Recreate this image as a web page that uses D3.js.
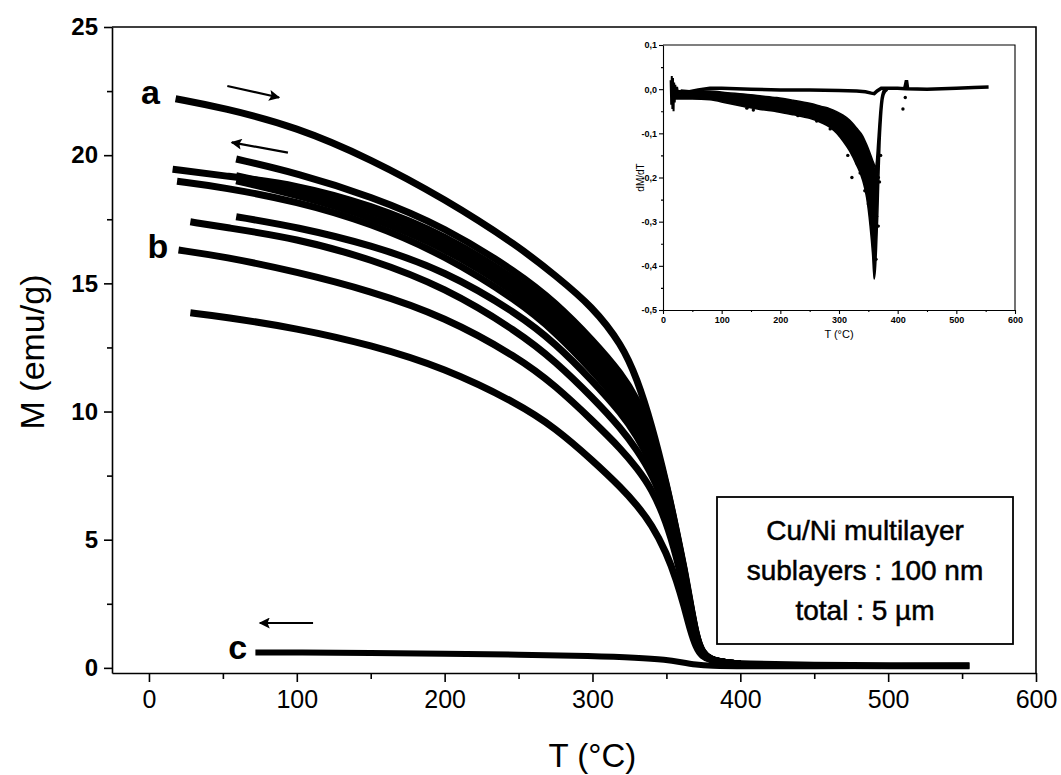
<!DOCTYPE html>
<html><head><meta charset="utf-8">
<script src="https://cdn.jsdelivr.net/npm/d3@7"></script>
<style>
html,body{margin:0;padding:0;background:#fff;}
svg{display:block;font-family:"Liberation Sans",Arial,sans-serif;}
</style></head><body>
<svg id="chart" width="1061" height="775"></svg>
<script>
// M(T) curves, [T °C, M emu/g]
const curveA = [[18,22.2],[50,21.85],[100,21.1],[150,19.85],[200,18.3],[250,16.45],[275,15.3],[300,14.1],[320,12.6],[330,11.3],[340,9.5],[350,7.2],[357,5.3],[362,3.9],[366,2.6],[370,1.3],[374,0.6],[380,0.32],[390,0.2],[400,0.15],[450,0.1],[500,0.08],[555,0.08]];
const curveCool1 = [[59,19.85],[100,19.3],[150,18.4],[200,17.2],[250,15.4],[275,14.25],[300,12.8],[320,11.45],[330,10.5],[340,9.2],[350,7.2],[357,5.25],[362,3.85],[366,2.55],[370,1.3],[374,0.6],[380,0.3],[390,0.2],[400,0.15]];
const curveCool2 = [[16,19.45],[50,19.2],[100,18.85],[150,18.05],[200,16.9],[250,15.1],[275,13.95],[300,12.5],[320,11.15],[330,10.2],[340,8.95],[350,7.1],[357,5.2],[362,3.8],[366,2.5],[370,1.25],[374,0.55],[380,0.3],[390,0.2],[400,0.15]];
const curveCool3 = [[59,19.2],[100,18.7],[150,17.85],[200,16.65],[250,14.85],[275,13.7],[300,12.25],[320,10.9],[330,9.95],[340,8.75],[350,7.0],[357,5.15],[362,3.75],[366,2.45],[370,1.25],[374,0.55],[380,0.3],[390,0.2],[400,0.15]];
const curveCool4 = [[59,19.0],[100,18.45],[150,17.6],[200,16.4],[250,14.6],[275,13.4],[300,11.95],[320,10.6],[330,9.7],[340,8.55],[350,6.85],[357,5.1],[362,3.7],[366,2.4],[370,1.2],[374,0.55],[380,0.3],[390,0.2],[400,0.15]];
const curveCool5 = [[19,18.98],[50,18.75],[100,18.2],[150,17.35],[200,16.1],[250,14.3],[275,13.1],[300,11.6],[320,10.25],[330,9.35],[340,8.25],[350,6.65],[357,5.0],[362,3.6],[366,2.3],[370,1.2],[374,0.55],[380,0.3],[390,0.2],[400,0.15]];
const curveCool6 = [[59,17.6],[100,17.2],[150,16.5],[200,15.5],[250,13.8],[275,12.65],[300,11.2],[320,9.9],[330,9.05],[340,8.0],[350,6.5],[357,4.9],[362,3.5],[366,2.2],[370,1.15],[374,0.55],[380,0.3],[390,0.2],[400,0.15]];
const curveCool7 = [[28,17.4],[50,17.2],[100,16.75],[150,15.95],[200,14.85],[250,13.1],[275,11.95],[300,10.55],[320,9.3],[330,8.5],[340,7.6],[350,6.2],[357,4.7],[362,3.3],[366,2.1],[370,1.1],[374,0.55],[380,0.3],[390,0.2],[400,0.15]];
const curveB = [[20,16.3],[50,16.05],[100,15.45],[150,14.7],[200,13.7],[250,12.1],[275,11.0],[300,9.65],[320,8.5],[330,7.8],[340,7.0],[350,5.7],[357,4.3],[362,3.0],[366,1.9],[370,1.0],[374,0.5],[380,0.3],[390,0.2],[400,0.15]];
const curveLow = [[28,13.85],[50,13.7],[100,13.25],[150,12.6],[200,11.7],[250,10.3],[275,9.35],[300,8.1],[320,7.0],[330,6.35],[340,5.6],[350,4.5],[357,3.4],[362,2.4],[366,1.5],[370,0.8],[374,0.45],[380,0.3],[390,0.2],[400,0.15]];
const curveC = [[72,0.6],[100,0.6],[150,0.58],[200,0.55],[250,0.52],[300,0.46],[330,0.4],[350,0.32],[360,0.22],[370,0.12],[380,0.08],[400,0.06],[450,0.06],[500,0.07],[555,0.08]];

const xMajor = [0,100,200,300,400,500,600];
const xMinor = [50,150,250,350,450,550];
const yMajor = [0,5,10,15,20,25];
const yMinor = [2.5,7.5,12.5,17.5,22.5];

// curve labels and arrows, in data units
const curveLabels = [{t:'a',T:1,M:22.0},{t:'b',T:6,M:16.0},{t:'c',T:60,M:0.35}];
const arrows = [[[53,22.7],[88,22.25]],[[94,20.1],[56,20.5]],[[111,1.75],[75,1.75]]];
const infoLines = ['Cu/Ni multilayer','sublayers : 100 nm','total : 5 µm'];

// inset dM/dT
const insetUpper = [[30,-0.004],[45,-0.006],[60,-0.002],[80,0.002],[100,0.002],[150,0.0],[200,-0.002],[250,-0.002],[300,-0.003],[330,-0.004],[345,-0.006],[355,-0.009],[360,-0.01],[365,-0.004],[372,0.002],[400,0.002],[412,0.001],[415,0.02],[417,0.001],[450,0.0],[500,0.002],[530,0.004],[555,0.005]];
const insetBand = [[20,-0.003,-0.022],[50,-0.004,-0.022],[80,-0.004,-0.024],[110,-0.008,-0.032],[137,-0.011,-0.039],[165,-0.015,-0.046],[194,-0.019,-0.051],[222,-0.025,-0.058],[250,-0.032,-0.066],[270,-0.039,-0.076],[284,-0.044,-0.086],[296,-0.051,-0.1],[307,-0.059,-0.118],[318,-0.07,-0.14],[330,-0.088,-0.172],[340,-0.105,-0.205],[347,-0.125,-0.245],[353,-0.145,-0.31],[357,-0.16,-0.37],[360,-0.17,-0.43],[362,-0.18,-0.41],[364,-0.16,-0.36],[366,-0.12,-0.29],[368,-0.08,-0.2],[370,-0.045,-0.12],[372,-0.02,-0.07],[374,-0.008,-0.035],[377,0.0,-0.012],[382,0.003,-0.003]];
const insetNoise = [[13,0.02],[14,-0.035],[15,0.03],[16,-0.045],[17,0.025],[18,-0.05],[19,0.015],[20,-0.03],[21,0.01],[22,-0.02],[24,0.005],[26,-0.012]];
const insetDots = [[143,-0.043],[154,-0.047],[168,-0.043],[230,-0.06],[262,-0.072],[285,-0.09],[302,-0.105],[307,-0.083],[322,-0.2],[315,-0.15],[330,-0.167],[336,-0.19],[344,-0.23],[353,-0.215],[350,-0.26],[361,-0.257],[358,-0.347],[363,-0.385],[364,-0.288],[367,-0.31],[367,-0.2],[369,-0.21],[364,-0.18],[371,-0.15],[409,-0.045],[413,-0.019]];
const insetXTicks = [0,100,200,300,400,500,600];
const insetXMinor = [50,150,250,350,450,550];
const insetYTicks = [-0.5,-0.4,-0.3,-0.2,-0.1,0.0,0.1];
const insetYMinor = [-0.45,-0.35,-0.25,-0.15,-0.05,0.05];

(function() {
  const svg = d3.select('#chart');
  const x = d3.scaleLinear().domain([-25,600]).range([112,1036]);
  const y = d3.scaleLinear().domain([-0.2,25]).range([673,27]);
  const FONT = '"Liberation Sans",Arial,sans-serif';

  svg.append('defs').append('marker').attr('id','ah')
    .attr('viewBox','0 0 10 10').attr('refX',9).attr('refY',5)
    .attr('markerWidth',7).attr('markerHeight',5).attr('orient','auto')
    .attr('markerUnits','strokeWidth')
    .append('path').attr('d','M0,0L10,5L0,10L2,5z').attr('fill','#000');

  // axes
  const styleAx = g => { g.selectAll('path,line').attr('stroke','#000').attr('stroke-width',1.6);
    g.selectAll('text').attr('fill','#000').style('font-family',FONT); };
  svg.append('g').attr('transform','translate(0,673)')
    .call(d3.axisBottom(x).tickValues(xMajor).tickSize(9).tickSizeOuter(0).tickPadding(8).tickFormat(d3.format('d')))
    .call(styleAx).call(g=>g.selectAll('text').style('font-size','25px'));
  svg.append('g').attr('transform','translate(0,673)')
    .call(d3.axisBottom(x).tickValues(xMinor).tickSize(6).tickFormat(''))
    .call(styleAx).call(g=>g.select('.domain').remove());
  svg.append('g').attr('transform','translate(112,0)')
    .call(d3.axisLeft(y).tickValues(yMajor).tickSize(8).tickSizeOuter(0).tickPadding(6).tickFormat(d3.format('d')))
    .call(styleAx).call(g=>g.selectAll('text').style('font-size','24px').style('font-weight','bold'));
  svg.append('g').attr('transform','translate(112,0)')
    .call(d3.axisLeft(y).tickValues(yMinor).tickSize(5).tickFormat(''))
    .call(styleAx).call(g=>g.select('.domain').remove());
  // frame top/right
  svg.append('path').attr('d',`M112,27H1036V673`).attr('fill','none').attr('stroke','#000').attr('stroke-width',1.6);

  svg.append('text').attr('x',x(300)).attr('y',767).attr('text-anchor','middle')
    .style('font-family',FONT).style('font-size','33px').text('T (°C)');
  svg.append('text').attr('transform','rotate(-90)').attr('x',-352).attr('y',44).attr('text-anchor','middle')
    .style('font-family',FONT).style('font-size','34px').text('M (emu/g)');

  // curves
  const line = d3.line().x(d=>x(d[0])).y(d=>y(d[1])).curve(d3.curveBasis);
  [curveA,curveCool1,curveCool2,curveCool3,curveCool4,curveCool5,curveCool6,curveCool7,curveB,curveLow].forEach(c=>{
    svg.append('path').datum(c).attr('d',line).attr('fill','none')
      .attr('stroke','#000').attr('stroke-width',7).attr('stroke-linejoin','round');
  });
  svg.append('path').datum(curveC).attr('d',line).attr('fill','none')
    .attr('stroke','#000').attr('stroke-width',6);

  curveLabels.forEach(l=>{
    svg.append('text').attr('x',x(l.T)).attr('y',y(l.M)).attr('text-anchor','middle')
      .style('font-family',FONT).style('font-size','34px').style('font-weight','bold').text(l.t);
  });
  arrows.forEach(a=>{
    svg.append('line').attr('x1',x(a[0][0])).attr('y1',y(a[0][1])).attr('x2',x(a[1][0])).attr('y2',y(a[1][1]))
      .attr('stroke','#000').attr('stroke-width',2.2).attr('marker-end','url(#ah)');
  });

  // info box
  const box = svg.append('g');
  box.append('rect').attr('x',717).attr('y',497).attr('width',296).attr('height',147)
    .attr('fill','#fff').attr('stroke','#000').attr('stroke-width',1.8);
  infoLines.forEach((t,i)=>{
    box.append('text').attr('x',865).attr('y',540+i*40).attr('text-anchor','middle')
      .style('font-family',FONT).style('font-size','28px').style('stroke','#000').style('stroke-width','0.5').text(t);
  });

  // inset
  const ix = d3.scaleLinear().domain([0,600]).range([663,1015]);
  const iy = d3.scaleLinear().domain([-0.5,0.1]).range([310,45]);
  const ins = svg.append('g');
  ins.append('rect').attr('x',663).attr('y',45).attr('width',352).attr('height',265).attr('fill','#fff');
  const styleIn = g => { g.selectAll('path,line').attr('stroke','#000').attr('stroke-width',1.1);
    g.selectAll('text').attr('fill','#000').style('font-family',FONT).style('font-size','9px').style('font-weight','bold'); };
  const comma = v => v.toFixed(1).replace('.',',');
  ins.append('g').attr('transform','translate(0,310)')
    .call(d3.axisBottom(ix).tickValues(insetXTicks).tickSize(4).tickSizeOuter(0).tickPadding(3).tickFormat(d3.format('d'))).call(styleIn);
  ins.append('g').attr('transform','translate(0,310)')
    .call(d3.axisBottom(ix).tickValues(insetXMinor).tickSize(2).tickFormat('')).call(styleIn).call(g=>g.select('.domain').remove());
  ins.append('g').attr('transform','translate(663,0)')
    .call(d3.axisLeft(iy).tickValues(insetYTicks).tickSize(4).tickSizeOuter(0).tickPadding(2).tickFormat(comma)).call(styleIn);
  ins.append('g').attr('transform','translate(663,0)')
    .call(d3.axisLeft(iy).tickValues(insetYMinor).tickSize(2).tickFormat('')).call(styleIn).call(g=>g.select('.domain').remove());
  ins.append('path').attr('d','M663,45H1015V310').attr('fill','none').attr('stroke','#000').attr('stroke-width',1.1);
  ins.append('text').attr('x',ix(300)).attr('y',338).attr('text-anchor','middle')
    .style('font-family',FONT).style('font-size','11px').text('T (°C)');
  ins.append('text').attr('transform','rotate(-90)').attr('x',-iy(-0.2)).attr('y',644).attr('text-anchor','middle')
    .style('font-family',FONT).style('font-size','10px').text('dM/dT');

  const iline = d3.line().x(d=>ix(d[0])).y(d=>iy(d[1]));
  ins.append('path').datum(insetBand)
    .attr('d',d3.area().x(d=>ix(d[0])).y0(d=>iy(d[2])).y1(d=>iy(d[1])).curve(d3.curveMonotoneX))
    .attr('fill','#000').attr('stroke','#000').attr('stroke-width',1.5);
  ins.append('path').datum(insetUpper).attr('d',iline).attr('fill','none').attr('stroke','#000').attr('stroke-width',3.5);
  ins.append('path').datum(insetNoise).attr('d',iline).attr('fill','none').attr('stroke','#000').attr('stroke-width',2);
  ins.selectAll('circle.dot').data(insetDots).join('circle').attr('class','dot')
    .attr('cx',d=>ix(d[0])).attr('cy',d=>iy(d[1])).attr('r',1.7).attr('fill','#000');
})();
</script>
</body></html>
